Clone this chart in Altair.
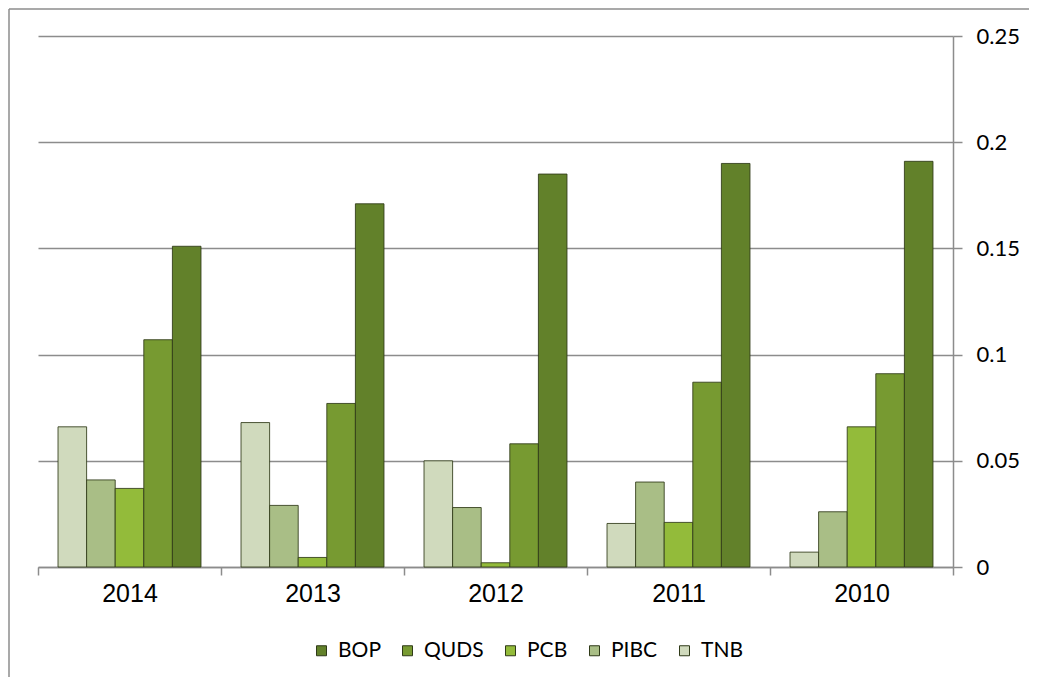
import altair as alt
import pandas as pd

years = ["2014", "2013", "2012", "2011", "2010"]
banks_group = ["TNB", "PIBC", "PCB", "QUDS", "BOP"]
banks_legend = ["BOP", "QUDS", "PCB", "PIBC", "TNB"]
colors_legend = ["#62812a", "#779a31", "#93bb3a", "#a9be86", "#d0dabd"]

TNB = [0.066, 0.068, 0.050, 0.0205, 0.007]
PIBC = [0.041, 0.029, 0.028, 0.040, 0.026]
PCB = [0.037, 0.0045, 0.002, 0.021, 0.066]
QUDS = [0.107, 0.077, 0.058, 0.087, 0.091]
BOP = [0.151, 0.171, 0.185, 0.190, 0.191]

series = {"TNB": TNB, "PIBC": PIBC, "PCB": PCB, "QUDS": QUDS, "BOP": BOP}
rows = []
for b in banks_group:
    for y, v in zip(years, series[b]):
        rows.append({"year": y, "bank": b, "value": v})
df = pd.DataFrame(rows)

W, H = 915, 531

bars = alt.Chart(df).mark_bar(stroke="#2f3a18", strokeWidth=1, strokeOpacity=0.85).encode(
    x=alt.X("year:N", sort=years, title=None,
            scale=alt.Scale(paddingInner=0, paddingOuter=0),
            axis=alt.Axis(labelAngle=0, tickBand="extent", labelFont="Liberation Sans",
                          labelFontSize=25, labelColor="#000000", tickSize=8,
                          tickColor="#8c8c8c", domainColor="#8c8c8c", domainWidth=1.5,
                          tickWidth=1.5, labelPadding=6, grid=False)),
    xOffset=alt.XOffset("bank:N", sort=banks_group,
                        scale=alt.Scale(paddingInner=0, paddingOuter=0.7)),
    y=alt.Y("value:Q", title=None,
            scale=alt.Scale(domain=[0, 0.25], nice=False),
            axis=alt.Axis(orient="right", values=[0, 0.05, 0.1, 0.15, 0.2, 0.25],
                          labelFont="Lato", labelFontSize=22, labelColor="#000000",
                          tickSize=9, tickColor="#8c8c8c", tickWidth=1.5,
                          domainColor="#8c8c8c", domainWidth=1.5, labelPadding=14,
                          grid=True, gridColor="#8c8c8c", gridWidth=1.5,
                          labelExpr="datum.value == 0 ? '0' : format(datum.value, '.2~f')")),
    color=alt.Color("bank:N", scale=alt.Scale(domain=banks_legend, range=colors_legend),
                    legend=alt.Legend(title=None, orient="none", direction="horizontal",
                                      legendX=273, legendY=604, symbolType="square",
                                      symbolSize=100, symbolStrokeColor="#2f3a18",
                                      symbolStrokeWidth=1, labelFont="Lato",
                                      labelFontSize=21, labelColor="#000000",
                                      labelOffset=6, columnPadding=16)),
)

border_df = pd.DataFrame({"a": [0]})
border_top = alt.Chart(border_df).mark_rule(stroke="#8c8c8c", strokeWidth=1.5).encode(
    x=alt.value(-29), x2=alt.value(1200), y=alt.value(-27)
)
border_left = alt.Chart(border_df).mark_rule(stroke="#8c8c8c", strokeWidth=1.5).encode(
    x=alt.value(-29), y=alt.value(-27), y2=alt.value(900)
)

chart = alt.layer(bars, border_top, border_left).properties(
    width=W, height=H,
    background="white",
    autosize=alt.AutoSizeParams(type="none"),
    padding={"left": 30, "top": 28, "right": 76, "bottom": 110},
).configure_view(stroke=None, strokeWidth=0)

chart.save("out.html", embed_options={"renderer": "svg", "actions": False})
